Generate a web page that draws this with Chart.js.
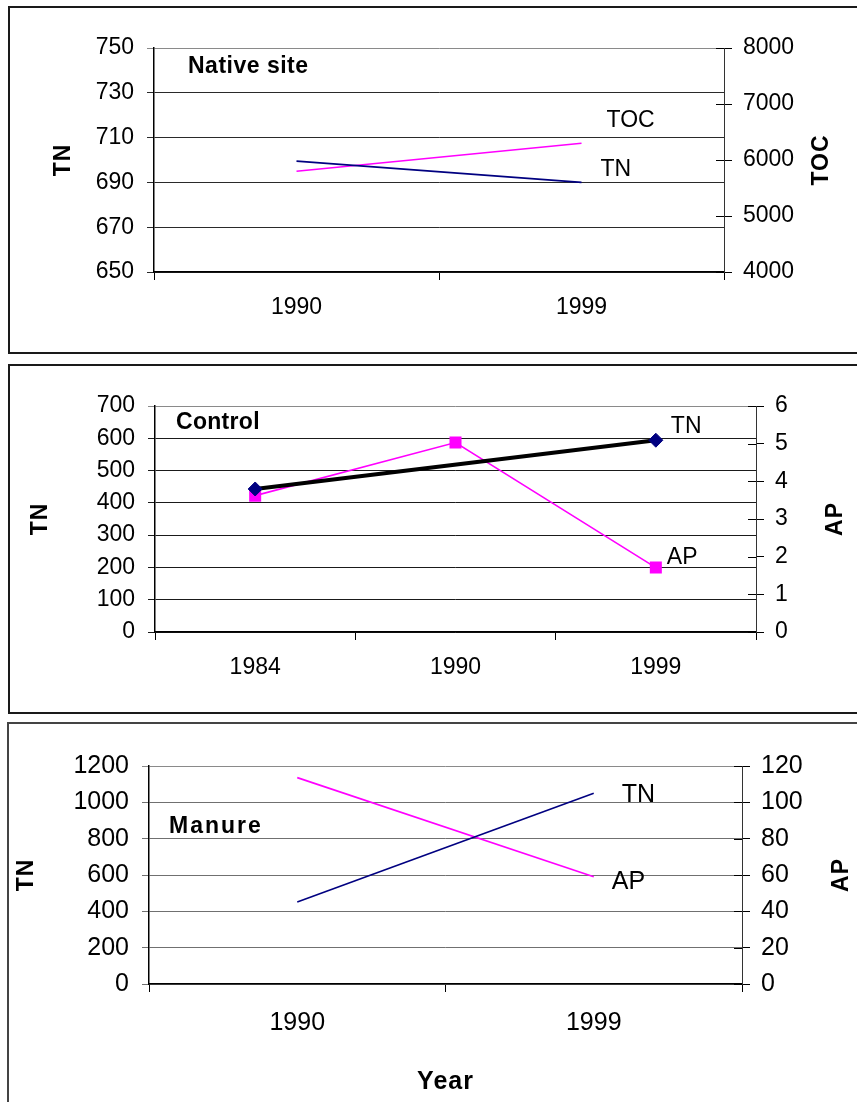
<!DOCTYPE html>
<html>
<head>
<meta charset="utf-8">
<title>TN / TOC / AP</title>
<script src="https://cdn.jsdelivr.net/npm/chart.js@4.4.1/dist/chart.umd.min.js"></script>
<style>
    html, body { margin: 0; padding: 0; background: #fff; }
    body { width: 857px; height: 1102px; position: relative; overflow: hidden; }
    .frame { position: absolute; box-sizing: border-box; border: 2px solid #1a1a1a; }
    canvas { position: absolute; left: 0; }
</style>
</head>
<body>
<div class="frame" style="left:8px; top:6px; width:900px; height:348px;"></div>
<div class="frame" style="left:8px; top:364px; width:900px; height:350px;"></div>
<div class="frame" style="left:7px; top:722px; width:900px; height:420px; border-color:#444;"></div>

<canvas id="nativeChart" width="857" height="355" style="top:0px;"></canvas>
<canvas id="controlChart" width="857" height="355" style="top:360px;"></canvas>
<canvas id="manureChart" width="857" height="382" style="top:720px;"></canvas>

<script>
/* =====================
   DATA
===================== */
const nativeYears = ['1990', '1999'];
const nativeTN = [699.5, 690];
const nativeTOC = [5800, 6300];
const nativeTNTicks = [650, 670, 690, 710, 730, 750];
const nativeTOCTicks = [4000, 5000, 6000, 7000, 8000];

const controlYears = ['1984', '1990', '1999'];
const controlTN = [443, null, 594];
const controlAP = [3.62, 5.03, 1.71];
const controlTNTicks = [0, 100, 200, 300, 400, 500, 600, 700];
const controlAPTicks = [0, 1, 2, 3, 4, 5, 6];

const manureYears = ['1990', '1999'];
const manureTN = [451, 1050];
const manureAP = [113.6, 59];
const manureTNTicks = [0, 200, 400, 600, 800, 1000, 1200];
const manureAPTicks = [0, 20, 40, 60, 80, 100, 120];

const FONT = "'Liberation Sans', Arial, sans-serif";
const NAVY = '#000080';
const MAGENTA = '#ff00ff';

document.addEventListener('DOMContentLoaded', () => {
    Chart.defaults.font.family = FONT;
    Chart.defaults.color = '#000';

    /* =====================
       TEXT + INNER TICKS
    ===================== */
    const panelText = {
        id: 'panelText',
        afterDraw(chart, args, opts) {
            const { ctx, chartArea } = chart;
            ctx.save();

            // right axis ticks cross the axis line
            const y1 = chart.scales.y1;
            ctx.strokeStyle = '#000';
            ctx.lineWidth = 1;
            y1.ticks.forEach((t) => {
                const py = Math.round(y1.getPixelForValue(t.value)) + 0.5;
                ctx.beginPath();
                ctx.moveTo(chartArea.right - 8, py);
                ctx.lineTo(chartArea.right, py);
                ctx.stroke();
            });

            ctx.fillStyle = '#000';
            ctx.textBaseline = 'middle';

            // panel name
            ctx.textAlign = 'left';
            ctx.font = 'bold ' + opts.name.size + 'px ' + FONT;
            ctx.letterSpacing = (opts.name.spacing || 0) + 'px';
            ctx.fillText(opts.name.text, chartArea.left + opts.name.dx, chartArea.top + opts.name.dy);
            ctx.letterSpacing = '0px';

            // series labels next to the last point
            ctx.font = opts.labelSize + 'px ' + FONT;
            opts.labels.forEach((l) => {
                const meta = chart.getDatasetMeta(l.dataset);
                const pt = meta.data[meta.data.length - 1];
                ctx.fillText(l.text, pt.x + l.dx, pt.y + l.dy);
            });

            // axis titles
            const midY = (chartArea.top + chartArea.bottom) / 2;
            ctx.font = 'bold ' + opts.axisSize + 'px ' + FONT;
            ctx.textAlign = 'center';
            [[opts.leftTitle, opts.leftX], [opts.rightTitle, opts.rightX]].forEach(([text, x]) => {
                ctx.save();
                ctx.translate(x, midY);
                ctx.rotate(-Math.PI / 2);
                ctx.letterSpacing = '1px';
                ctx.fillText(text, 0, 0);
                ctx.restore();
            });

            if (opts.xTitle) {
                ctx.font = 'bold ' + opts.xTitle.size + 'px ' + FONT;
                ctx.letterSpacing = '1px';
                ctx.fillText(opts.xTitle.text, (chartArea.left + chartArea.right) / 2, opts.xTitle.y);
            }
            ctx.restore();
        },
    };

    /* =====================
       PANEL BUILDER
    ===================== */
    const plainNumber = (v) => String(v);

    const makePanel = (id, cfg) => {
        const canvas = document.getElementById(id);
        const W = canvas.width;
        const H = canvas.height;
        const gridColor = (c) => (c.tick && c.tick.value === cfg.leftTicks[cfg.leftTicks.length - 1] ? '#8a8a8a' : cfg.gridColor);

        return new Chart(canvas, {
            type: 'line',
            data: { labels: cfg.labels, datasets: cfg.datasets },
            options: {
                responsive: false,
                animation: false,
                events: [],
                layout: { padding: { top: cfg.area.top, left: 0, right: 0, bottom: 0 } },
                plugins: {
                    legend: { display: false },
                    tooltip: { enabled: false },
                    panelText: cfg.text,
                },
                scales: {
                    x: {
                        type: 'category',
                        offset: true,
                        grid: { offset: true, drawOnChartArea: false, tickLength: 8, color: '#000' },
                        border: { color: '#000', width: 1.5 },
                        ticks: { font: { size: cfg.tickSize }, color: '#000', padding: cfg.xPad, maxRotation: 0 },
                        afterFit: (s) => { s.height = H - cfg.area.bottom; },
                    },
                    y: {
                        position: 'left',
                        min: cfg.leftTicks[0],
                        max: cfg.leftTicks[cfg.leftTicks.length - 1],
                        afterBuildTicks: (s) => { s.ticks = cfg.leftTicks.map((v) => ({ value: v })); },
                        grid: { color: gridColor, tickLength: 7, lineWidth: 1 },
                        border: { color: '#000', width: 1.5 },
                        ticks: { font: { size: cfg.tickSize }, color: '#000', padding: 13, callback: plainNumber },
                        afterFit: (s) => { s.width = cfg.area.left; },
                    },
                    y1: {
                        position: 'right',
                        min: cfg.rightTicks[0],
                        max: cfg.rightTicks[cfg.rightTicks.length - 1],
                        afterBuildTicks: (s) => { s.ticks = cfg.rightTicks.map((v) => ({ value: v })); },
                        grid: { drawOnChartArea: false, tickLength: 8, color: '#000' },
                        border: { color: '#333', width: 1 },
                        ticks: { font: { size: cfg.tickSize }, color: '#000', padding: 11, callback: plainNumber },
                        afterFit: (s) => { s.width = W - cfg.area.right; },
                    },
                },
            },
            plugins: [panelText],
        });
    };

    const plainLine = (label, data, color, axis) => ({
        label,
        data,
        yAxisID: axis,
        borderColor: color,
        borderWidth: 1.6,
        pointRadius: 0,
        tension: 0,
        fill: false,
    });

    /* =====================
       NATIVE SITE
    ===================== */
    makePanel('nativeChart', {
        labels: nativeYears,
        datasets: [
            plainLine('TN', nativeTN, NAVY, 'y'),
            plainLine('TOC', nativeTOC, MAGENTA, 'y1'),
        ],
        leftTicks: nativeTNTicks,
        rightTicks: nativeTOCTicks,
        area: { top: 48, bottom: 272, left: 154, right: 724 },
        tickSize: 23,
        xPad: 14,
        gridColor: '#2a2a2a',
        text: {
            name: { text: 'Native site', size: 23, spacing: 0.5, dx: 34, dy: 19 },
            labelSize: 23,
            labels: [
                { dataset: 1, text: 'TOC', dx: 25, dy: -23 },
                { dataset: 0, text: 'TN', dx: 19, dy: -13 },
            ],
            axisSize: 23,
            leftTitle: 'TN', leftX: 64,
            rightTitle: 'TOC', rightX: 822,
        },
    });

    /* =====================
       CONTROL
    ===================== */
    makePanel('controlChart', {
        labels: controlYears,
        datasets: [
            {
                label: 'TN',
                data: controlTN,
                yAxisID: 'y',
                borderColor: '#000',
                borderWidth: 4,
                spanGaps: true,
                pointStyle: 'rectRot',
                pointRadius: 7,
                pointBackgroundColor: NAVY,
                pointBorderColor: NAVY,
                pointBorderWidth: 1,
                tension: 0,
            },
            {
                label: 'AP',
                data: controlAP,
                yAxisID: 'y1',
                borderColor: MAGENTA,
                borderWidth: 1.6,
                pointStyle: 'rect',
                pointRadius: 8.5,
                pointBackgroundColor: MAGENTA,
                pointBorderColor: MAGENTA,
                pointBorderWidth: 0,
                tension: 0,
            },
        ],
        leftTicks: controlTNTicks,
        rightTicks: controlAPTicks,
        area: { top: 46, bottom: 272, left: 155, right: 756 },
        tickSize: 23,
        xPad: 14,
        gridColor: '#1a1a1a',
        text: {
            name: { text: 'Control', size: 23, spacing: 0.3, dx: 21, dy: 17 },
            labelSize: 23,
            labels: [
                { dataset: 0, text: 'TN', dx: 15, dy: -14 },
                { dataset: 1, text: 'AP', dx: 11, dy: -10 },
            ],
            axisSize: 23,
            leftTitle: 'TN', leftX: 41,
            rightTitle: 'AP', rightX: 836,
        },
    });

    /* =====================
       MANURE
    ===================== */
    makePanel('manureChart', {
        labels: manureYears,
        datasets: [
            plainLine('TN', manureTN, NAVY, 'y'),
            plainLine('AP', manureAP, MAGENTA, 'y1'),
        ],
        leftTicks: manureTNTicks,
        rightTicks: manureAPTicks,
        area: { top: 46, bottom: 264, left: 149, right: 742 },
        tickSize: 25,
        xPad: 16,
        gridColor: '#707070',
        text: {
            name: { text: 'Manure', size: 23, spacing: 2, dx: 20, dy: 61 },
            labelSize: 25,
            labels: [
                { dataset: 0, text: 'TN', dx: 28, dy: 2 },
                { dataset: 1, text: 'AP', dx: 18, dy: 5 },
            ],
            axisSize: 23,
            leftTitle: 'TN', leftX: 27,
            rightTitle: 'AP', rightX: 842,
            xTitle: { text: 'Year', size: 25, y: 362 },
        },
    });
});
</script>
</body>
</html>
